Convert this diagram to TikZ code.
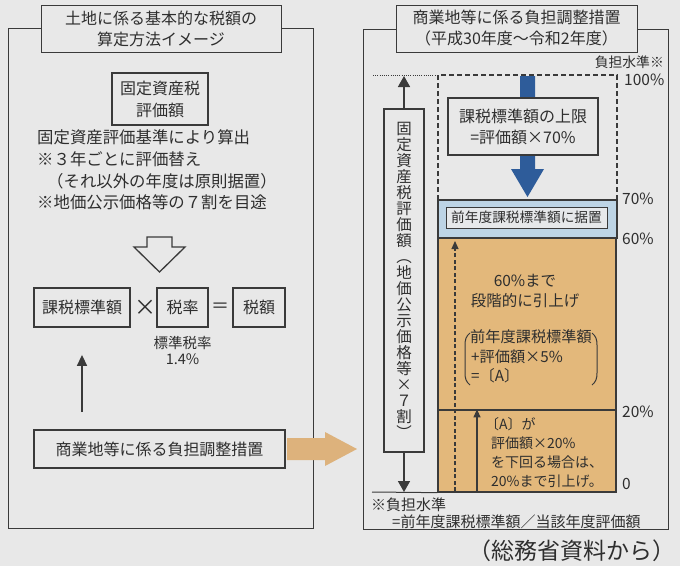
\documentclass[tikz,border=0pt]{standalone}
\usepackage{fontspec}
\setmainfont{Noto Sans CJK JP}
\usetikzlibrary{arrows.meta}
\definecolor{bgc}{HTML}{E8E8E8}
\definecolor{ink}{HTML}{2E2E2E}
\definecolor{lin}{HTML}{3A3A3A}
\definecolor{tanc}{HTML}{E3B87B}
\definecolor{lblue}{HTML}{BDD4E5}
\definecolor{dblue}{HTML}{2E5C9A}
\definecolor{oarr}{HTML}{DDB27C}
\definecolor{inbox}{HTML}{E6E8EA}
\begin{document}
\begin{tikzpicture}[x=1pt,y=-1pt,
  frame/.style={draw=lin, line width=0.9pt},
  title/.style={draw=lin, line width=1pt, fill=bgc, minimum width=240pt, minimum height=47pt, align=center, text=ink, font=\fontsize{16}{21}\selectfont, inner sep=0pt},
  tbox/.style={draw=lin, line width=1.8pt, fill=bgc, text=ink, inner sep=0pt, align=center, font=\fontsize{16}{22}\selectfont},
  txt/.style={text=ink, inner sep=0pt, anchor=west},
  pct/.style={text=ink, inner sep=0pt, anchor=west, font=\fontsize{15.5}{15.5}\selectfont},
  otxt/.style={text=ink, inner sep=0pt},
  arr/.style={-{Triangle[width=10pt,length=11pt]}, line width=1.5pt, draw=lin},
  arrbig/.style={-{Triangle[width=12pt,length=11pt]}, line width=1.6pt, draw=lin},
  arrsmall/.style={-{Triangle[width=7pt,length=8pt]}, line width=1.2pt, draw=lin}
]
\fill[bgc] (0,0) rectangle (680,566);
\useasboundingbox (0,0) rectangle (680,566);

% ---------- left panel ----------
\draw[frame] (8,28) rectangle (313,528);
\node[title] (lt) at (161,28.5) {土地に係る基本的な税額の\\算定方法イメージ};

\node[tbox, minimum width=96pt, minimum height=52pt] (kz) at (160,99) {固定資産税\\評価額};

\node[txt, font=\fontsize{16.4}{16.4}\selectfont] (l1) at (37,137) {固定資産評価基準により算出};
\node[txt, font=\fontsize{16.4}{16.4}\selectfont] (l2) at (37,159) {※３年ごとに評価替え};
\node[txt, font=\fontsize{16.4}{16.4}\selectfont] (l3) at (47,181) {（それ以外の年度は原則据置）};
\node[txt, font=\fontsize{16.4}{16.4}\selectfont] (l4) at (37,202) {※地価公示価格等の７割を目途};

\draw[lin, line width=1.3pt, fill=bgc] (147,237) -- (172,237) -- (172,247) -- (185,247) -- (159.5,272) -- (134,247) -- (147,247) -- cycle;

\node[tbox, minimum width=96pt, minimum height=39pt] (kh) at (82,307.5) {課税標準額};
\node[otxt, font=\fontsize{22}{22}\selectfont] (mul) at (145.5,307.5) {×};
\node[tbox, minimum width=51pt, minimum height=39pt] (zr) at (182.5,307.5) {税率};
\node[otxt, font=\fontsize{18}{18}\selectfont] (eq) at (220.5,307.5) {＝};
\node[tbox, minimum width=52pt, minimum height=39pt] (zg) at (259,307.5) {税額};
\node[otxt, align=center, font=\fontsize{14.5}{16}\selectfont] (hz) at (182.5,350) {標準税率\\1.4\%};

\node[tbox, minimum width=251pt, minimum height=38pt] (sho) at (159.5,449) {商業地等に係る負担調整措置};
\draw[arr, shorten <=17pt, shorten >=27pt] (sho.north -| kh.south) -- (kh.south);

% ---------- right panel ----------
\draw[frame] (363,29) rectangle (668,529);
\node[title, minimum width=241pt] (rt) at (516.5,28.5) {商業地等に係る負担調整措置\\（平成30年度～令和2年度）};
\node[text=ink, font=\fontsize{13.8}{13.8}\selectfont, anchor=east, inner sep=0pt] (fsj) at (664,62) {負担水準※};

\node[pct] (p100) at (624,80) {100\%};
\node[pct] (p70) at (622,199) {70\%};
\node[pct] (p60) at (622,239) {60\%};
\node[pct] (p20) at (622,412) {20\%};
\node[pct] (p0) at (622,484) {0};

\draw[lin, line width=0.8pt, dash pattern=on 1pt off 1.2pt] (373,75) -- (437,75);
\draw[lin, line width=1.2pt, dash pattern=on 5pt off 3pt] (438,200) -- (438,75) -- (617,75) -- (617,200);

\fill[dblue] (520,76) -- (535,76) -- (535,169) -- (544,169) -- (527.5,197) -- (511,169) -- (520,169) -- cycle;
\node[draw=lin, line width=1.3pt, fill=bgc, minimum width=150pt, minimum height=57pt, align=center, font=\fontsize{16}{21}\selectfont, text=ink, inner sep=0pt] (jg) at (523,126.5) {課税標準額の上限\\=評価額×70\%};

\node[draw=lin, line width=1.3pt, fill=lblue, minimum width=179pt, minimum height=38pt, inner sep=0pt] (blue) at (527.5,219) {};
\node[draw=lin, line width=0.9pt, fill=inbox, minimum width=161pt, minimum height=21pt, inner sep=0pt, text=ink, font=\fontsize{13.7}{13.7}\selectfont] (sue) at (526.5,217.5) {前年度課税標準額に据置};

\node[draw=lin, line width=1.3pt, fill=tanc, minimum width=178pt, minimum height=172pt, inner sep=0pt] (or1) at (527,324) {};
\node[draw=lin, line width=1.3pt, fill=tanc, minimum width=178pt, minimum height=82pt, inner sep=0pt] (or2) at (527,451) {};

\coordinate (da0) at (455,491);
\coordinate (da1) at (455,241);
\draw[arrsmall, dash pattern=on 4pt off 2.5pt] (da0) -- (da1);
\coordinate (sa0) at (477,491);
\draw[arrsmall] (sa0) -- (or2.north -| sa0);

\node[otxt, align=center, font=\fontsize{15.5}{20}\selectfont] (o1) at (525,291) {60\%まで\\段階的に引上げ};
\node[txt, font=\fontsize{15.2}{15.2}\selectfont] (b1) at (470,337) {前年度課税標準額};
\node[txt, font=\fontsize{15.2}{15.2}\selectfont] (b2) at (471,357) {+評価額×5\%};
\node[txt, font=\fontsize{15.2}{15.2}\selectfont] (b3) at (471,376) {=〔A〕};
\draw[lin, line width=1pt] (470,333) .. controls (466,336) and (465,340) .. (465,345) -- (465,373) .. controls (465,378) and (466,382) .. (470,385);
\draw[lin, line width=1pt] (592,333) .. controls (596,336) and (597,340) .. (597,345) -- (597,373) .. controls (597,378) and (596,382) .. (592,385);

\node[txt, font=\fontsize{14}{14}\selectfont] (c1) at (485,424) {〔A〕が};
\node[txt, font=\fontsize{14}{14}\selectfont] (c2) at (491,443) {評価額×20\%};
\node[txt, font=\fontsize{14}{14}\selectfont] (c3) at (491,462) {を下回る場合は、};
\node[txt, font=\fontsize{14}{14}\selectfont] (c4) at (491,481) {20\%まで引上げ。};

\node[draw=lin, line width=2.2pt, fill=bgc, minimum width=40pt, minimum height=343pt, inner sep=0pt, align=center, text=ink, font=\fontsize{15.5}{16}\selectfont] (vb) at (404,280.5) {固\\定\\資\\産\\税\\評\\価\\額\\︵\\地\\価\\公\\示\\価\\格\\等\\×\\７\\割\\︶};
\coordinate (top100) at (404,76);
\coordinate (bot0) at (404,492);
\draw[arrbig] (vb.north) -- (top100);
\draw[arrbig] (vb.south) -- (bot0);
\coordinate (bl) at (372,492);
\draw[lin, line width=1pt] (bl) -- (or2.south west);

\node[txt, font=\fontsize{15}{15}\selectfont] (n1) at (371,505) {※負担水準};
\node[txt, font=\fontsize{15}{15}\selectfont] (n2) at (392,522) {=前年度課税標準額／当該年度評価額};

\node[otxt, font=\fontsize{23}{23}\selectfont] (src) at (571.5,551) {（総務省資料から）};

% orange arrow between panels
\fill[oarr] (287,438) -- (325,438) -- (325,432) -- (357,449) -- (325,466) -- (325,460) -- (287,460) -- cycle;
\end{tikzpicture}
\end{document}
